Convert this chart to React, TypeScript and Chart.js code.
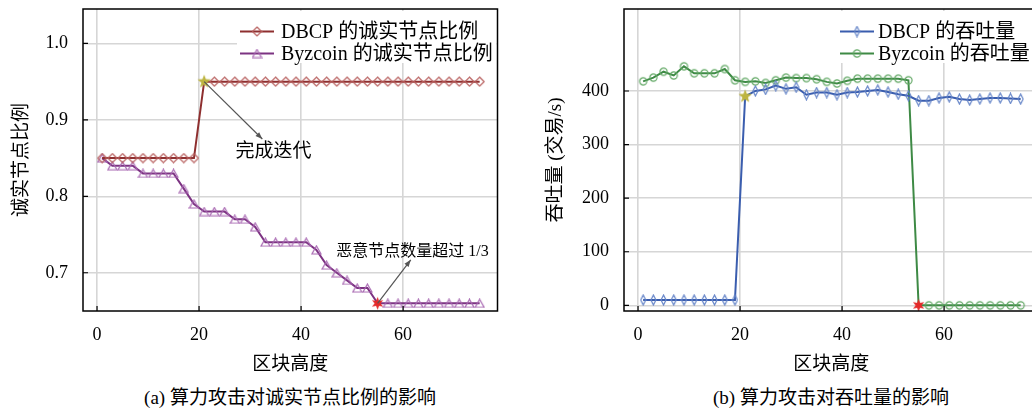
import React, { useEffect, useRef } from 'react';
import { Chart, registerables } from 'chart.js';

Chart.register(...registerables);

const FONT = '"Liberation Serif", "Noto Sans CJK SC", serif';

// ---- data ----
const blockHeights = [1, 3, 5, 7, 9, 11, 13, 15, 17, 19, 21, 23, 25, 27, 29, 31, 33, 35, 37, 39, 41, 43, 45, 47, 49, 51, 53, 55, 57, 59, 61, 63, 65, 67, 69, 71, 73, 75];

const honestDbcp = [0.85, 0.85, 0.85, 0.85, 0.85, 0.85, 0.85, 0.85, 0.85, 0.85,
  0.95, 0.95, 0.95, 0.95, 0.95, 0.95, 0.95, 0.95, 0.95, 0.95, 0.95, 0.95, 0.95, 0.95,
  0.95, 0.95, 0.95, 0.95, 0.95, 0.95, 0.95, 0.95, 0.95, 0.95, 0.95, 0.95, 0.95, 0.95];

const honestByzcoin = [0.85, 0.84, 0.84, 0.84, 0.83, 0.83, 0.83, 0.83, 0.81, 0.79,
  0.78, 0.78, 0.78, 0.77, 0.77, 0.76, 0.74, 0.74, 0.74, 0.74, 0.74, 0.73, 0.71, 0.70,
  0.69, 0.68, 0.68, 0.66, 0.66, 0.66, 0.66, 0.66, 0.66, 0.66, 0.66, 0.66, 0.66, 0.66];

const tputDbcp = [10, 10, 10, 10, 10, 10, 10, 10, 10, 10,
  390, 400, 403, 410, 404, 407, 393, 397, 397, 393, 397, 398, 400, 402,
  398, 394, 391, 382, 382, 387, 389, 385, 383, 385, 387, 387, 386, 385];

const tputByzcoin = [418, 425, 436, 429, 446, 433, 433, 433, 441, 420,
  417, 418, 415, 420, 425, 424, 424, 422, 417, 414, 419, 423, 423, 423,
  423, 423, 420, 0, 0, 0, 0, 0, 0, 0, 0, 0, 0, 0];

const xTicks = [0, 20, 40, 60];
const honestTicks = [0.7, 0.8, 0.9, 1.0];
const tputTicks = [0, 100, 200, 300, 400];

const finishIndex = 10; // block 21: iteration finished
const overIndex = 27; // block 55: malicious nodes exceed 1/3

const labelsLeft = ['DBCP 的诚实节点比例', 'Byzcoin 的诚实节点比例'];
const labelsRight = ['DBCP 的吞吐量', 'Byzcoin 的吞吐量'];

// ---- marker images ----
function mk(w: number, h: number, draw: (c: CanvasRenderingContext2D) => void) {
  const cv = document.createElement('canvas');
  cv.width = w;
  cv.height = h;
  const c = cv.getContext('2d')!;
  draw(c);
  return cv;
}

function diamond(w: number, h: number, color: string) {
  return mk(w + 2, h + 2, (c) => {
    c.strokeStyle = color;
    c.lineWidth = 1.2;
    c.beginPath();
    c.moveTo((w + 2) / 2, 1);
    c.lineTo(w + 1, (h + 2) / 2);
    c.lineTo((w + 2) / 2, h + 1);
    c.lineTo(1, (h + 2) / 2);
    c.closePath();
    c.stroke();
  });
}

function triangle(w: number, h: number, color: string) {
  return mk(w + 2, h + 2, (c) => {
    c.strokeStyle = color;
    c.lineWidth = 1.2;
    c.beginPath();
    c.moveTo((w + 2) / 2, 1);
    c.lineTo(w + 1, h + 1);
    c.lineTo(1, h + 1);
    c.closePath();
    c.stroke();
  });
}

function ring(r: number, color: string) {
  const s = Math.ceil(r * 2 + 3);
  return mk(s, s, (c) => {
    c.strokeStyle = color;
    c.lineWidth = 1.2;
    c.beginPath();
    c.arc(s / 2, s / 2, r, 0, Math.PI * 2);
    c.stroke();
  });
}

function star(points: number, outer: number, inner: number, fill: string) {
  const s = Math.ceil(outer * 2 + 2);
  return mk(s, s, (c) => {
    c.fillStyle = fill;
    c.beginPath();
    for (let i = 0; i < points * 2; i++) {
      const r = i % 2 === 0 ? outer : inner;
      const a = -Math.PI / 2 + (i * Math.PI) / points;
      const x = s / 2 + r * Math.cos(a);
      const y = s / 2 + r * Math.sin(a);
      if (i === 0) c.moveTo(x, y);
      else c.lineTo(x, y);
    }
    c.closePath();
    c.fill();
  });
}

function arrow(ctx: CanvasRenderingContext2D, x1: number, y1: number, x2: number, y2: number) {
  ctx.beginPath();
  ctx.moveTo(x1, y1);
  ctx.lineTo(x2, y2);
  ctx.stroke();
  const a = Math.atan2(y2 - y1, x2 - x1);
  const L = 7;
  const W = 2.6;
  ctx.beginPath();
  ctx.moveTo(x2, y2);
  ctx.lineTo(x2 - L * Math.cos(a) + W * Math.sin(a), y2 - L * Math.sin(a) - W * Math.cos(a));
  ctx.lineTo(x2 - L * Math.cos(a) - W * Math.sin(a), y2 - L * Math.sin(a) + W * Math.cos(a));
  ctx.closePath();
  ctx.fill();
}

type Ann = { from: [number, number]; to: [number, number]; text: string; at: [number, number]; size: number };

function decorPlugin(legend: { labels: string[]; colors: string[]; markers: HTMLCanvasElement[]; boxLeft: number; lineX: number; textX: number }, anns: Ann[]) {
  return {
    id: 'decor',
    afterDatasetsDraw(chart: any) {
      const { ctx, chartArea: ca, scales } = chart;
      const xs = scales.x;
      const ys = scales.y;
      ctx.save();
      // annotations
      ctx.strokeStyle = '#555';
      ctx.fillStyle = '#555';
      ctx.lineWidth = 1.2;
      for (const a of anns) {
        arrow(ctx, xs.getPixelForValue(a.from[0]), ys.getPixelForValue(a.from[1]), xs.getPixelForValue(a.to[0]), ys.getPixelForValue(a.to[1]));
        ctx.fillStyle = '#000';
        ctx.font = `${a.size}px ${FONT}`;
        ctx.textAlign = 'center';
        ctx.textBaseline = 'middle';
        ctx.fillText(a.text, xs.getPixelForValue(a.at[0]), ys.getPixelForValue(a.at[1]));
        ctx.fillStyle = '#555';
      }
      // legend
      ctx.fillStyle = '#fff';
      ctx.fillRect(ca.left + legend.boxLeft, ca.top + 2, ca.right - ca.left - legend.boxLeft - 1, 52);
      ctx.font = `20px ${FONT}`;
      ctx.textAlign = 'left';
      ctx.textBaseline = 'middle';
      legend.labels.forEach((lab, i) => {
        const y = ca.top + 22.5 + i * 22;
        const x0 = ca.left + legend.lineX;
        ctx.strokeStyle = legend.colors[i];
        ctx.lineWidth = 2.2;
        ctx.beginPath();
        ctx.moveTo(x0, y);
        ctx.lineTo(x0 + 34, y);
        ctx.stroke();
        const m = legend.markers[i];
        ctx.drawImage(m, x0 + 17 - m.width / 2, y - m.height / 2);
        ctx.fillStyle = '#000';
        ctx.fillText(lab, ca.left + legend.textX, y + 1);
      });
      // frame
      ctx.strokeStyle = '#000';
      ctx.lineWidth = 1.5;
      ctx.strokeRect(ca.left, ca.top, ca.right - ca.left, ca.bottom - ca.top);
      // inward ticks
      ctx.lineWidth = 1.2;
      ctx.beginPath();
      for (const t of ys.ticks) {
        const y = ys.getPixelForValue(t.value);
        ctx.moveTo(ca.left, y);
        ctx.lineTo(ca.left + 5, y);
      }
      for (const t of xs.ticks) {
        const x = xs.getPixelForValue(t.value);
        ctx.moveTo(x, ca.bottom);
        ctx.lineTo(x, ca.bottom - 5);
      }
      ctx.stroke();
      ctx.restore();
    },
  };
}

function baseScales(yMin: number, yMax: number, yTickVals: number[], yTitle: string, yTitlePad: number, fmt: (v: number) => string) {
  const grid = { color: '#d6d6d6', lineWidth: 1.6, drawTicks: false };
  return {
    x: {
      type: 'linear',
      min: -2.75,
      max: 78.5,
      afterBuildTicks: (s: any) => { s.ticks = xTicks.map((v) => ({ value: v })); },
      afterFit: (s: any) => { s.height = 65; s.paddingLeft = 0; s.paddingRight = 0; },
      grid,
      border: { display: false },
      ticks: { color: '#000', font: { family: FONT, size: 18 }, padding: 13, maxRotation: 0, autoSkip: false },
      title: { display: true, text: '区块高度', color: '#000', font: { family: FONT, size: 19 }, padding: { top: 0, bottom: 0 } },
    },
    y: {
      type: 'linear',
      min: yMin,
      max: yMax,
      afterBuildTicks: (s: any) => { s.ticks = yTickVals.map((v) => ({ value: v })); },
      afterFit: (s: any) => { s.width = 83; s.paddingTop = 0; s.paddingBottom = 0; },
      grid,
      border: { display: false },
      ticks: { color: '#000', font: { family: FONT, size: 18 }, padding: 15, callback: (v: number) => fmt(v) },
      title: { display: true, text: yTitle, color: '#000', font: { family: FONT, size: 19 }, padding: { top: yTitlePad, bottom: 0 } },
    },
  };
}

export default function App() {
  const leftRef = useRef<HTMLCanvasElement>(null);
  const rightRef = useRef<HTMLCanvasElement>(null);

  useEffect(() => {
    const cRed = '#8E2F2F';
    const cRedM = '#B8605F';
    const cPur = '#7C3382';
    const cPurM = '#A868B2';
    const cBlue = '#3A5DAE';
    const cBlueM = '#6585C8';
    const cGreen = '#3E8A45';
    const cGreenM = '#62A865';

    const mDia = diamond(9, 9, cRedM);
    const mTri = triangle(9, 8, cPurM);
    const mNarrow = diamond(5, 10, cBlueM);
    const mRing = ring(3.6, cGreenM);
    const mYellow = star(5, 7, 3, '#BDB440');
    const mRed = star(6, 6.5, 3, '#E42A2A');

    const pts = (arr: number[]) => arr.map((v, i) => ({ x: blockHeights[i], y: v }));
    const styleFn = (base: HTMLCanvasElement, special: number, img: HTMLCanvasElement) => (c: any) => (c.dataIndex === special ? img : base);

    const leftChart = new Chart(leftRef.current!, {
      type: 'line',
      data: {
        datasets: [
          {
            label: labelsLeft[0],
            data: pts(honestDbcp),
            borderColor: cRed,
            borderWidth: 2,
            pointStyle: styleFn(mDia, finishIndex, mYellow) as any,
            pointRadius: 4,
          },
          {
            label: labelsLeft[1],
            data: pts(honestByzcoin),
            borderColor: cPur,
            borderWidth: 2,
            pointStyle: styleFn(mTri, overIndex, mRed) as any,
            pointRadius: 4,
          },
        ],
      },
      options: {
        animation: false,
        responsive: false,
        layout: { padding: { top: 9, right: 12.5, left: 0, bottom: 0 } },
        plugins: { legend: { display: false }, tooltip: { enabled: false } },
        scales: baseScales(0.65, 1.045, honestTicks, '诚实节点比例', 11, (v) => v.toFixed(1)) as any,
      },
      plugins: [
        decorPlugin(
          { labels: labelsLeft, colors: [cRed, cPur], markers: [mDia, mTri], boxLeft: 154, lineX: 157, textX: 198 },
          [
            { from: [blockHeights[finishIndex], honestDbcp[finishIndex]], to: [32.4, 0.875], text: '完成迭代', at: [34.6, 0.858], size: 19 },
            { from: [blockHeights[overIndex], honestByzcoin[overIndex]], to: [61.5, 0.717], text: '恶意节点数量超过 1/3', at: [61.85, 0.728], size: 16 },
          ]
        ) as any,
      ],
    });

    const rightChart = new Chart(rightRef.current!, {
      type: 'line',
      data: {
        datasets: [
          {
            label: labelsRight[0],
            data: pts(tputDbcp),
            borderColor: cBlue,
            borderWidth: 2,
            pointStyle: styleFn(mNarrow, finishIndex, mYellow) as any,
            pointRadius: 4,
          },
          {
            label: labelsRight[1],
            data: pts(tputByzcoin),
            borderColor: cGreen,
            borderWidth: 2,
            pointStyle: styleFn(mRing, overIndex, mRed) as any,
            pointRadius: 4,
          },
        ],
      },
      options: {
        animation: false,
        responsive: false,
        layout: { padding: { top: 9, right: 12.5, left: 0, bottom: 0 } },
        plugins: { legend: { display: false }, tooltip: { enabled: false } },
        scales: baseScales(-10.6, 553, tputTicks, '吞吐量 (交易/s)', 4, (v) => String(v)) as any,
      },
      plugins: [
        decorPlugin({ labels: labelsRight, colors: [cBlue, cGreen], markers: [mNarrow, mRing], boxLeft: 212, lineX: 216, textX: 254 }, []) as any,
      ],
    });

    return () => {
      leftChart.destroy();
      rightChart.destroy();
    };
  }, []);

  const cap: React.CSSProperties = {
    position: 'absolute',
    top: 386,
    width: 420,
    textAlign: 'center',
    fontFamily: FONT,
    fontSize: 19,
    lineHeight: '24px',
    color: '#000',
    whiteSpace: 'nowrap',
  };

  return (
    <div style={{ position: 'fixed', left: 0, top: 0, width: 1032, height: 412, overflow: 'hidden', background: '#fff' }}>
      <canvas ref={leftRef} width={510} height={376} style={{ position: 'absolute', left: 0, top: 0, width: 510, height: 376 }} />
      <canvas ref={rightRef} width={510} height={376} style={{ position: 'absolute', left: 541, top: 0, width: 510, height: 376 }} />
      <div style={{ ...cap, left: 290 - 210 }}>(a) 算力攻击对诚实节点比例的影响</div>
      <div style={{ ...cap, left: 831 - 210 }}>(b) 算力攻击对吞吐量的影响</div>
    </div>
  );
}
